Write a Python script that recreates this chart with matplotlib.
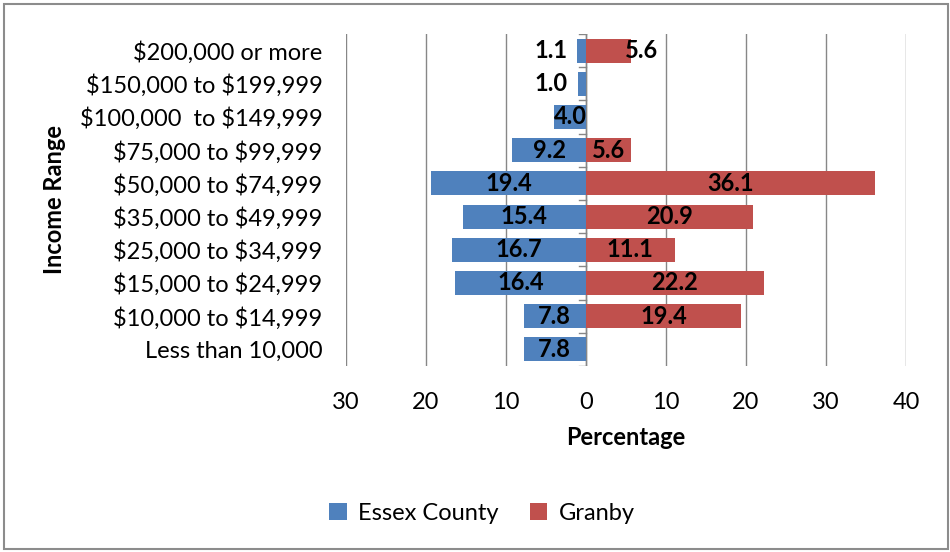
import numpy as np
import matplotlib
matplotlib.use('Agg')
from matplotlib import pyplot as plt
from matplotlib.patches import Rectangle

# chart data, top row first
categories = ['$200,000 or more', '$150,000 to $199,999', '$100,000  to $149,999',
              '$75,000 to $99,999', '$50,000 to $74,999', '$35,000 to $49,999',
              '$25,000 to $34,999', '$15,000 to $24,999', '$10,000 to $14,999',
              'Less than 10,000']
essex = [1.1, 1.0, 4.0, 9.2, 19.4, 15.4, 16.7, 16.4, 7.8, 7.8]
granby = [5.6, 0, 0, 5.6, 36.1, 20.9, 11.1, 22.2, 19.4, 0]
x_ticks = [-30, -20, -10, 0, 10, 20, 30, 40]
x_tick_labels = ['30', '20', '10', '0', '10', '20', '30', '40']

BLUE = '#4F81BD'
RED = '#C0504D'
GRID = '#878787'
FS = 17

plt.rcParams['font.family'] = ['Lato', 'DejaVu Sans']

fig = plt.figure(figsize=(9.5, 5.52), dpi=100)
ax = fig.add_axes([346 / 950, 1 - 366 / 552, 560 / 950, 332 / 552])

ypos = np.arange(len(categories))[::-1]
ax.barh(ypos, [-v for v in essex], height=0.72, color=BLUE, label='Essex County', zorder=3)
ax.barh(ypos, granby, height=0.72, color=RED, label='Granby', zorder=3)

# value labels, centred in the bars; narrow bars get the label pushed outside
for y, v in zip(ypos, essex):
    xp = -v / 2 if v > 3 else -4.4
    ax.text(xp, y, f'{v:.1f}', ha='center', va='center', fontsize=FS,
            fontweight='bold', color='black', zorder=4)
for i, (y, v) in enumerate(zip(ypos, granby)):
    if v == 0:
        continue
    xp = v / 2 if i != 0 else 6.9
    ax.text(xp, y, f'{v:.1f}', ha='center', va='center', fontsize=FS,
            fontweight='bold', color='black', zorder=4)

ax.set_xlim(-30, 40)
ax.set_ylim(-0.5, len(categories) - 0.5)
ax.set_xticks(x_ticks)
ax.set_xticklabels(x_tick_labels, fontsize=FS)
ax.set_yticks(ypos)
ax.set_yticklabels([c.replace('$', r'\$') for c in categories], fontsize=FS)
ax.tick_params(axis='both', length=0)
ax.tick_params(axis='x', pad=19)
ax.tick_params(axis='y', pad=17)
ax.grid(axis='x', color=GRID, linewidth=1, zorder=0)
for s in ax.spines.values():
    s.set_visible(False)

# category axis sits on zero, with small tick marks between categories
ax.axvline(0, color=GRID, linewidth=1, zorder=2)
for b in np.arange(-0.5, len(categories), 1):
    ax.plot([-0.9, 0], [b, b], color=GRID, linewidth=1, zorder=2)

ax.set_xlabel('Percentage', fontsize=FS, fontweight='bold', labelpad=9)
ax.set_ylabel('Income Range', fontsize=FS, fontweight='bold', labelpad=10)

fig.legend(loc='center', bbox_to_anchor=(482 / 950, 1 - 513 / 552), ncol=2,
           frameon=False, fontsize=FS, handlelength=0.75, handleheight=0.75,
           columnspacing=1.3, handletextpad=0.5)

fig.patches.append(Rectangle((4 / 950, 3 / 552), 944 / 950, 545 / 552,
                             transform=fig.transFigure, fill=False,
                             edgecolor='#8c8c8c', linewidth=1.5))

fig.savefig('out.png', dpi=100)
